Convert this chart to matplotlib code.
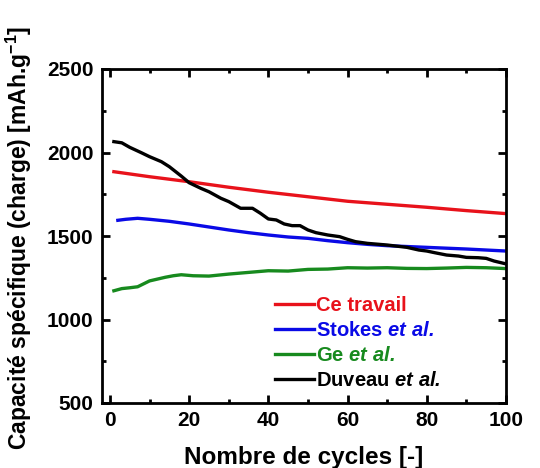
import matplotlib
matplotlib.use('Agg')
import matplotlib.pyplot as plt
from matplotlib.ticker import MultipleLocator

plt.rcParams['font.family'] = ['Liberation Sans', 'DejaVu Sans']
plt.rcParams['font.weight'] = 'bold'
plt.rcParams['mathtext.fontset'] = 'custom'
plt.rcParams['mathtext.rm'] = 'Liberation Sans:bold'
plt.rcParams['mathtext.bf'] = 'Liberation Sans:bold'
plt.rcParams['mathtext.bfit'] = 'Liberation Sans:bold:italic'
plt.rcParams['mathtext.it'] = 'Liberation Sans:bold:italic'

# Ce travail
red_x = [1, 10, 20, 30, 40, 50, 60, 70, 80, 90, 100]
red_y = [1885, 1855, 1825, 1792, 1762, 1735, 1708, 1690, 1672, 1652, 1634]

# Stokes et al.
blue_x = [2, 4, 7, 10, 15, 20, 25, 30, 35, 40, 45, 50, 55, 60, 65, 70, 75, 80, 85, 90, 95, 100]
blue_y = [1594, 1600, 1606, 1600, 1588, 1572, 1554, 1536, 1520, 1506, 1494, 1486, 1472, 1460, 1450,
          1442, 1437, 1432, 1427, 1422, 1416, 1410]

# Ge et al.
green_x = [1, 3, 5, 7, 10, 12, 14, 16, 18, 21, 25, 30, 35, 40, 45, 50, 55, 60, 65, 70, 75, 80,
           85, 90, 95, 100]
green_y = [1172, 1185, 1190, 1196, 1231, 1242, 1253, 1262, 1268, 1262, 1260, 1272, 1282, 1292,
           1290, 1300, 1302, 1310, 1308, 1310, 1306, 1305, 1308, 1312, 1310, 1305]

# Duveau et al.
black_x = [1, 3, 5, 8, 10, 13, 15, 18, 20, 23, 25, 28, 30, 33, 36, 38, 40, 42, 44, 46, 48, 50,
           52, 55, 58, 60, 62, 65, 70, 75, 78, 80, 82, 85, 88, 90, 93, 95, 97, 100]
black_y = [2065, 2058, 2031, 1998, 1975, 1945, 1915, 1859, 1819, 1785, 1765, 1726, 1706, 1666,
           1666, 1636, 1602, 1596, 1572, 1562, 1562, 1536, 1520, 1506, 1496, 1480, 1466, 1456,
           1446, 1432, 1416, 1410, 1400, 1386, 1380, 1372, 1370, 1366, 1350, 1333]

fig = plt.figure(figsize=(5.4, 4.68), dpi=100)
ax = fig.add_axes([102 / 540, 1 - 403 / 468, 404 / 540, 334 / 468])

lw = 2.4
ax.plot(red_x, red_y, color='#e8121b', lw=lw, label='Ce travail')
ax.plot(blue_x, blue_y, color='#0a0ae6', lw=lw, label=r'Stokes $\mathbfit{et\ al.}$')
ax.plot(green_x, green_y, color='#178a1e', lw=lw, label=r'Ge $\mathbfit{et\ al.}$')
ax.plot(black_x, black_y, color='black', lw=lw, label=r'Duveau $\mathbfit{et\ al.}$')

ax.set_xlim(-2, 100)
ax.set_ylim(500, 2500)
ax.xaxis.set_major_locator(MultipleLocator(20))
ax.xaxis.set_minor_locator(MultipleLocator(10))
ax.yaxis.set_major_locator(MultipleLocator(500))
ax.yaxis.set_minor_locator(MultipleLocator(250))
ax.tick_params(which='both', direction='in', top=True, right=True, labelsize=15, width=2)
ax.tick_params(which='major', length=6, pad=6)
ax.tick_params(which='minor', length=3)
for s in ax.spines.values():
    s.set_linewidth(2)

ax.set_xlabel('Nombre de cycles [-]', fontsize=17.5, fontweight='bold', va='top')
ax.xaxis.set_label_coords(0.5, -0.128)
# a bit smaller than the reference so the label is not cut at the figure edges
ax.set_ylabel(r'Capacité spécifique (charge) [mAh.g$^{-1}$]', fontsize=16.5, fontweight='bold')
ax.yaxis.set_label_coords(-0.168, 0.495)

leg = ax.legend(loc='lower left', bbox_to_anchor=(0.395, 0.0), frameon=False, fontsize=14.5,
                handlelength=1.95, handletextpad=0.1, labelspacing=0.3, borderaxespad=0.25,
                labelcolor='linecolor')

fig.savefig('out.png', dpi=100)
